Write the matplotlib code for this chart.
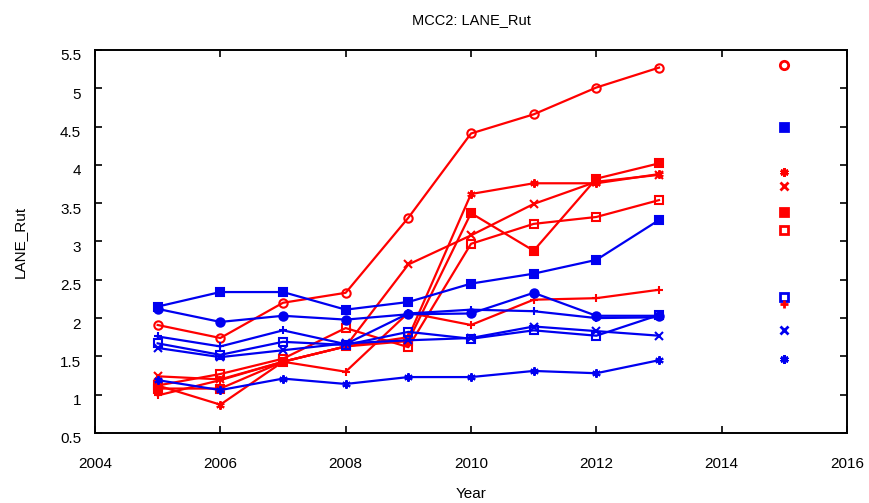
import matplotlib
matplotlib.use("Agg")
import matplotlib.pyplot as plt
import matplotlib.transforms as mtransforms

plt.rcParams['font.family'] = ['Liberation Sans', 'DejaVu Sans']

years = [2005, 2006, 2007, 2008, 2009, 2010, 2011, 2012, 2013]

# Red series
red_circle   = [1.91, 1.74, 2.20, 2.33, 3.31, 4.41, 4.66, 5.01, 5.27]
red_fsquare  = [1.08, 1.08, 1.43, 1.63, 1.70, 3.37, 2.88, 3.82, 4.02]
red_asterisk = [1.12, 0.87, 1.43, 1.63, 1.75, 3.62, 3.76, 3.76, 3.88]
red_x        = [1.24, 1.20, 1.43, 1.63, 2.70, 3.08, 3.49, 3.78, 3.87]
red_osquare  = [1.12, 1.27, 1.47, 1.87, 1.62, 2.97, 3.23, 3.32, 3.54]
red_plus     = [0.99, 1.19, 1.43, 1.30, 2.07, 1.91, 2.24, 2.26, 2.37]

# Blue series
blue_fsquare  = [2.15, 2.34, 2.34, 2.11, 2.21, 2.45, 2.58, 2.76, 3.28]
blue_circle   = [2.12, 1.95, 2.03, 1.98, 2.05, 2.06, 2.33, 2.03, 2.03]
blue_plus     = [1.76, 1.63, 1.84, 1.66, 2.06, 2.11, 2.09, 2.00, 2.01]
blue_osquare  = [1.67, 1.52, 1.69, 1.65, 1.82, 1.73, 1.84, 1.77, 2.04]
blue_x        = [1.61, 1.49, 1.58, 1.67, 1.71, 1.74, 1.89, 1.83, 1.77]
blue_asterisk = [1.19, 1.06, 1.21, 1.14, 1.23, 1.23, 1.31, 1.28, 1.45]

# Single points at 2015
point_year = 2015
pt_red_circle = 5.30
pt_blue_fsquare = 4.49
pt_red_asterisk = 3.91
pt_red_x = 3.73
pt_red_fsquare = 3.38
pt_red_osquare = 3.15
pt_blue_osquare = 2.28
pt_red_plus = 2.19
pt_blue_x = 1.85
pt_blue_asterisk = 1.46

x_ticks = [2004, 2006, 2008, 2010, 2012, 2014, 2016]
y_ticks = [0.5, 1, 1.5, 2, 2.5, 3, 3.5, 4, 4.5, 5, 5.5]
y_ticklabels = ['0.5', '1', '1.5', '2', '2.5', '3', '3.5', '4', '4.5', '5', '5.5']

RED = '#ff0000'
BLUE = '#0000f0'

fig = plt.figure(figsize=(8.69, 5.03), dpi=100)
ax = fig.add_axes([0.1093, 0.1392, 0.8654, 0.7614])

lw = 1.6
ms = 6

def line(vals, color, marker, filled):
    ax.plot(years, vals, color=color, lw=lw, marker=marker, ms=ms,
            mfc=color if filled else 'none', mec=color, mew=1.5)

line(red_circle, RED, 'o', False)
line(red_fsquare, RED, 's', True)
line(red_asterisk, RED, (6, 2, 0), False)
line(red_x, RED, 'x', False)
line(red_osquare, RED, 's', False)
line(red_plus, RED, '+', False)

line(blue_fsquare, BLUE, 's', True)
line(blue_circle, BLUE, 'o', True)
line(blue_plus, BLUE, '+', False)
line(blue_osquare, BLUE, 's', False)
line(blue_x, BLUE, 'x', False)
line(blue_asterisk, BLUE, (6, 2, 0), False)

def pt(val, color, marker, filled):
    ax.plot([point_year], [val], linestyle='none', marker=marker, ms=ms,
            mfc=color if filled else 'none', mec=color, mew=2)

pt(pt_red_circle, RED, 'o', False)
pt(pt_blue_fsquare, BLUE, 's', True)
pt(pt_red_asterisk, RED, (6, 2, 0), False)
pt(pt_red_x, RED, 'x', False)
pt(pt_red_fsquare, RED, 's', True)
pt(pt_red_osquare, RED, 's', False)
pt(pt_blue_osquare, BLUE, 's', False)
pt(pt_red_plus, RED, '+', False)
pt(pt_blue_x, BLUE, 'x', False)
pt(pt_blue_asterisk, BLUE, (6, 2, 0), False)

ax.set_xlim(2004, 2016)
ax.set_ylim(0.5, 5.5)
ax.set_xticks(x_ticks)
ax.set_yticks(y_ticks)
ax.set_yticklabels(y_ticklabels)
ax.tick_params(direction='in', top=True, right=True, length=5, width=1.2,
               labelsize=11)
ax.tick_params(axis='x', pad=17)
ax.tick_params(axis='y', pad=10)
# MATLAB-like slight downward shift of y tick labels
offset = mtransforms.ScaledTranslation(0, -5 / 100, fig.dpi_scale_trans)
for lab in ax.get_yticklabels():
    lab.set_transform(lab.get_transform() + offset)
for s in ax.spines.values():
    s.set_linewidth(1.4)

ax.set_title('MCC2: LANE_Rut', fontsize=10.5, pad=19)
ax.set_xlabel('Year', fontsize=11, labelpad=12)
ax.set_ylabel('LANE_Rut', fontsize=11, labelpad=24)

fig.savefig('out.png', dpi=100)
